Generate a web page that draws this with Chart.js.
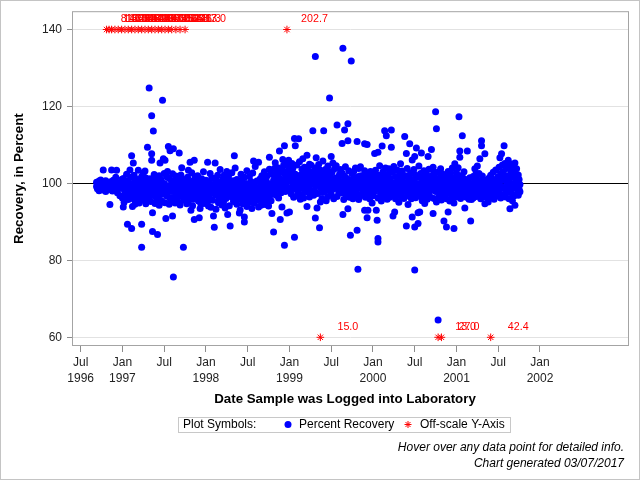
<!DOCTYPE html>
<html>
<head>
<meta charset="utf-8">
<script src="https://cdn.jsdelivr.net/npm/chart.js@4.4.1/dist/chart.umd.min.js"></script>
<style>
  html, body { margin: 0; padding: 0; background: #fff; }
  canvas { display: block; }
</style>
</head>
<body>
<canvas id="recovery-chart" width="640" height="480"></canvas>
<script>
// Percent recovery samples, [decimal year logged, recovery %]
const rec1996 = [
  [1996.69,99.2],[1996.69,100.3],[1996.70,98.6],[1996.71,99.8],[1996.72,100.6],[1996.72,98.1],[1996.73,99.4],[1996.74,100.9],
  [1996.75,98.8],[1996.76,99.9],[1996.77,103.5],[1996.77,98.3],[1996.78,100.2],[1996.79,99.1],[1996.80,97.9],[1996.80,100.7],
  [1996.81,99.5],[1996.82,98.6],[1996.83,100.0],[1996.84,99.0],[1996.85,94.5],[1996.85,98.4],[1996.86,100.4],[1996.87,103.5],
  [1996.87,99.3],[1996.88,98.0],[1996.89,100.8],[1996.90,99.6],[1996.91,98.9],[1996.92,101.6],[1996.93,103.4],[1996.93,99.2],
  [1996.94,97.6],[1996.95,100.1],[1996.96,98.7],[1996.97,96.8],[1996.98,99.7],[1996.99,101.0]
];
const rec1997 = [
  [1997.00,99.4],[1997.00,96.2],[1997.01,93.9],[1997.01,101.3],[1997.02,98.5],[1997.02,95.1],[1997.03,97.8],[1997.03,100.2],
  [1997.04,97.1],[1997.04,99.0],[1997.05,102.4],[1997.05,96.5],[1997.06,89.4],[1997.06,98.2],[1997.07,100.7],[1997.07,95.8],
  [1997.08,97.5],[1997.08,99.6],[1997.09,103.5],[1997.09,96.9],[1997.10,98.8],[1997.10,101.6],[1997.11,88.3],[1997.11,107.2],
  [1997.11,97.3],[1997.12,94.0],[1997.12,99.9],[1997.13,105.3],[1997.13,96.0],[1997.14,98.3],[1997.14,102.1],[1997.15,94.6],
  [1997.15,100.5],[1997.16,97.9],[1997.16,95.5],[1997.17,99.2],[1997.17,97.0],[1997.18,96.4],[1997.18,101.0],[1997.19,103.4],
  [1997.19,98.6],[1997.20,94.9],[1997.20,100.9],[1997.21,97.7],[1997.21,99.5],[1997.22,96.3],[1997.22,98.1],[1997.23,89.4],
  [1997.23,83.4],[1997.23,101.8],[1997.24,95.6],[1997.24,99.8],[1997.25,97.4],[1997.25,102.7],[1997.26,100.3],[1997.26,96.1],
  [1997.27,103.2],[1997.27,98.9],[1997.28,94.7],[1997.28,101.4],[1997.29,97.2],[1997.29,99.1],[1997.30,109.4],[1997.30,95.9],
  [1997.31,100.6],[1997.31,98.0],[1997.32,124.8],[1997.32,96.6],[1997.33,99.3],[1997.33,101.2],[1997.34,97.5],[1997.34,95.3],
  [1997.35,117.6],[1997.35,107.7],[1997.35,106.0],[1997.36,92.4],[1997.36,87.5],[1997.36,98.4],[1997.37,113.6],[1997.37,100.1],
  [1997.38,96.8],[1997.38,102.3],[1997.39,94.8],[1997.39,97.7],[1997.40,99.7],[1997.40,101.5],[1997.41,98.2],[1997.41,95.7],
  [1997.42,86.7],[1997.42,100.4],[1997.43,96.5],[1997.43,98.7],[1997.44,102.0],[1997.44,94.3],[1997.45,105.3],[1997.45,99.0],
  [1997.46,97.1],[1997.46,101.1],[1997.47,95.4],[1997.47,98.5],[1997.48,121.6],[1997.48,99.6],[1997.49,106.4],[1997.49,97.3],
  [1997.50,102.6],[1997.50,100.0],[1997.51,106.0],[1997.51,95.0],[1997.52,90.9],[1997.52,98.3],[1997.53,96.7],[1997.53,101.7],
  [1997.54,103.1],[1997.54,97.6],[1997.55,109.6],[1997.55,99.4],[1997.56,94.6],[1997.56,101.3],[1997.57,108.5],[1997.57,96.2],
  [1997.58,98.8],[1997.58,95.8],[1997.59,100.5],[1997.59,97.9],[1997.60,91.5],[1997.60,102.5],[1997.61,75.7],[1997.61,109.0],
  [1997.61,99.2],[1997.62,96.4],[1997.62,100.8],[1997.63,98.0],[1997.63,94.9],[1997.64,101.9],[1997.64,97.4],[1997.65,99.5],
  [1997.65,96.0],[1997.66,100.2],[1997.66,98.6],[1997.67,95.2],[1997.67,97.0],[1997.68,107.9],[1997.68,101.4],[1997.69,99.8],
  [1997.69,94.4],[1997.70,102.2],[1997.70,97.8],[1997.71,104.1],[1997.71,96.6],[1997.72,100.7],[1997.72,98.9],[1997.73,83.4],
  [1997.73,101.0],[1997.74,95.6],[1997.74,97.1],[1997.75,99.3],[1997.75,96.1],[1997.76,98.4],[1997.76,100.9],[1997.77,94.7],
  [1997.77,99.0],[1997.78,97.5],[1997.78,101.6],[1997.79,103.4],[1997.79,95.3],[1997.80,98.1],[1997.80,100.2],[1997.81,105.5],
  [1997.81,96.8],[1997.82,93.0],[1997.82,99.6],[1997.83,102.8],[1997.83,97.3],[1997.84,94.2],[1997.84,100.6],[1997.85,98.2],
  [1997.85,95.9],[1997.86,106.0],[1997.86,90.6],[1997.86,99.4],[1997.87,101.8],[1997.87,97.0],[1997.88,98.7],[1997.88,96.3],
  [1997.89,100.4],[1997.89,99.1],[1997.90,97.6],[1997.90,102.0],[1997.91,98.5],[1997.91,95.4],[1997.92,91.1],[1997.92,100.9],
  [1997.93,93.5],[1997.93,96.9],[1997.94,94.6],[1997.94,99.8],[1997.95,97.8],[1997.95,101.2],[1997.96,99.0],[1997.96,95.7],
  [1997.97,103.0],[1997.97,98.3],[1997.98,96.4],[1997.98,100.1],[1997.99,98.9],[1997.99,94.8]
];
const rec1998 = [
  [1998.00,97.6],[1998.00,100.8],[1998.01,95.2],[1998.01,99.1],[1998.02,105.5],[1998.02,96.7],[1998.03,98.3],[1998.03,94.1],
  [1998.04,100.2],[1998.04,97.4],[1998.05,96.0],[1998.05,102.6],[1998.06,99.5],[1998.06,93.8],[1998.07,101.5],[1998.07,97.9],
  [1998.08,98.8],[1998.08,95.6],[1998.09,91.5],[1998.09,101.3],[1998.10,88.6],[1998.10,99.8],[1998.11,105.3],[1998.11,97.2],
  [1998.12,98.4],[1998.12,93.3],[1998.13,100.6],[1998.13,96.9],[1998.14,97.0],[1998.14,102.1],[1998.15,99.3],[1998.15,95.0],
  [1998.16,95.8],[1998.16,98.0],[1998.17,103.6],[1998.17,96.2],[1998.18,97.7],[1998.18,100.1],[1998.19,94.4],[1998.19,99.0],
  [1998.20,101.1],[1998.20,96.4],[1998.21,98.7],[1998.21,95.0],[1998.22,97.3],[1998.22,102.2],[1998.23,99.6],[1998.23,93.6],
  [1998.24,96.1],[1998.24,100.5],[1998.25,98.2],[1998.25,103.1],[1998.26,91.9],[1998.26,97.5],[1998.27,101.7],[1998.27,99.2],
  [1998.28,94.2],[1998.28,98.6],[1998.29,88.9],[1998.29,96.6],[1998.30,100.4],[1998.30,97.8],[1998.31,99.9],[1998.31,102.8],
  [1998.32,96.3],[1998.32,98.9],[1998.33,95.3],[1998.33,100.7],[1998.34,107.2],[1998.34,97.1],[1998.35,104.0],[1998.35,98.1],
  [1998.36,96.8],[1998.36,99.5],[1998.37,94.6],[1998.37,101.0],[1998.38,98.5],[1998.38,95.9],[1998.39,97.4],[1998.39,100.3],
  [1998.40,92.3],[1998.40,99.1],[1998.41,93.1],[1998.41,97.9],[1998.42,102.4],[1998.42,96.0],[1998.43,98.0],[1998.43,100.9],
  [1998.44,97.2],[1998.44,94.7],[1998.45,99.4],[1998.45,95.4],[1998.46,91.3],[1998.46,90.0],[1998.46,101.6],[1998.47,96.5],
  [1998.47,98.7],[1998.48,97.6],[1998.48,100.0],[1998.49,103.3],[1998.49,94.0],[1998.50,96.9],[1998.50,98.2],[1998.51,99.7],
  [1998.51,95.2],[1998.52,97.3],[1998.52,101.8],[1998.53,95.1],[1998.53,98.6],[1998.54,100.5],[1998.54,96.3],[1998.55,98.1],
  [1998.55,93.5],[1998.56,102.7],[1998.56,97.7],[1998.57,105.8],[1998.57,99.3],[1998.58,99.8],[1998.58,94.9],[1998.59,104.4],
  [1998.59,97.1],[1998.60,98.4],[1998.60,96.6],[1998.61,95.7],[1998.61,100.6],[1998.62,98.9],[1998.62,96.1],[1998.63,105.5],
  [1998.63,93.9],[1998.64,97.5],[1998.64,99.0],[1998.65,101.2],[1998.65,96.8],[1998.66,100.0],[1998.66,94.3],[1998.67,98.3],
  [1998.67,102.0],[1998.68,95.2],[1998.68,99.6],[1998.69,97.9],[1998.69,101.4],[1998.70,103.0],[1998.70,96.5],[1998.71,99.2],
  [1998.71,94.5],[1998.72,96.0],[1998.72,100.8],[1998.73,101.9],[1998.73,97.6],[1998.74,98.6],[1998.74,95.8],[1998.75,94.1],
  [1998.75,99.9],[1998.76,106.8],[1998.76,103.7],[1998.77,97.0],[1998.77,98.0],[1998.78,102.5],[1998.78,95.5],[1998.79,92.2],
  [1998.79,99.4],[1998.80,99.4],[1998.80,102.3],[1998.81,87.4],[1998.81,100.8],[1998.82,103.9],[1998.82,98.0],[1998.83,101.2],
  [1998.83,105.4],[1998.84,96.9],[1998.84,99.7],[1998.85,102.6],[1998.85,100.3],[1998.86,98.5],[1998.86,104.1],[1998.87,101.7],
  [1998.87,96.2],[1998.88,108.4],[1998.88,99.1],[1998.89,90.6],[1998.89,102.9],[1998.90,100.5],[1998.90,97.6],[1998.91,93.9],
  [1998.91,103.6],[1998.92,106.2],[1998.92,101.0],[1998.93,98.8],[1998.93,104.7],[1998.94,109.8],[1998.94,83.9],[1998.94,100.2],
  [1998.95,102.4],[1998.95,97.9],[1998.96,105.0],[1998.96,99.5],[1998.97,92.3],[1998.97,101.9],[1998.98,103.3],[1998.98,98.4],
  [1998.99,100.7],[1998.99,106.0]
];
const rec1999 = [
  [1999.00,101.5],[1999.00,92.6],[1999.00,104.3],[1999.01,98.0],[1999.01,100.6],[1999.02,102.8],[1999.02,97.3],[1999.03,99.1],
  [1999.03,105.2],[1999.04,103.9],[1999.04,98.9],[1999.05,101.2],[1999.05,96.4],[1999.06,111.7],[1999.06,86.0],[1999.06,99.7],
  [1999.07,109.8],[1999.07,102.4],[1999.08,98.4],[1999.08,100.9],[1999.09,104.8],[1999.09,96.8],[1999.10,101.7],[1999.10,99.2],
  [1999.11,111.6],[1999.11,97.6],[1999.12,100.3],[1999.12,105.6],[1999.13,95.9],[1999.13,102.1],[1999.14,98.8],[1999.14,101.0],
  [1999.15,103.7],[1999.15,97.0],[1999.16,100.0],[1999.16,106.4],[1999.17,96.2],[1999.17,102.6],[1999.18,99.5],[1999.18,104.2],
  [1999.19,101.4],[1999.19,97.9],[1999.20,102.9],[1999.20,98.6],[1999.21,94.0],[1999.21,107.3],[1999.21,100.7],[1999.22,97.8],
  [1999.22,103.5],[1999.23,101.9],[1999.23,99.0],[1999.24,105.0],[1999.24,96.5],[1999.25,100.2],[1999.25,102.3],[1999.26,98.1],
  [1999.26,104.7],[1999.27,101.1],[1999.27,99.8],[1999.28,113.7],[1999.28,103.0],[1999.29,96.9],[1999.29,100.4],[1999.30,102.0],
  [1999.30,98.3],[1999.31,133.0],[1999.31,91.0],[1999.31,104.0],[1999.32,99.6],[1999.32,106.7],[1999.33,93.6],[1999.33,101.5],
  [1999.34,102.8],[1999.34,97.4],[1999.35,100.1],[1999.35,104.9],[1999.36,88.5],[1999.36,99.3],[1999.37,95.2],[1999.37,103.4],
  [1999.38,101.8],[1999.38,98.7],[1999.39,100.6],[1999.39,96.1],[1999.40,105.8],[1999.40,102.5],[1999.41,113.7],[1999.41,97.7],
  [1999.42,100.0],[1999.42,101.3],[1999.43,99.1],[1999.43,103.6],[1999.44,98.9],[1999.44,95.5],[1999.45,102.2],[1999.45,100.8],
  [1999.46,96.6],[1999.46,104.5],[1999.47,100.5],[1999.47,98.2],[1999.48,122.2],[1999.48,103.1],[1999.49,101.6],[1999.49,99.4],
  [1999.50,107.0],[1999.50,97.1],[1999.51,101.0],[1999.51,102.9],[1999.52,98.5],[1999.52,105.3],[1999.53,100.2],[1999.53,96.0],
  [1999.54,103.8],[1999.54,99.7],[1999.55,101.4],[1999.55,100.0],[1999.56,104.6],[1999.56,98.8],[1999.57,115.2],[1999.57,96.6],
  [1999.58,100.9],[1999.58,99.0],[1999.59,97.8],[1999.59,101.7],[1999.60,102.4],[1999.60,98.4],[1999.61,103.6],[1999.61,100.3],
  [1999.62,97.5],[1999.62,99.6],[1999.63,110.4],[1999.63,102.7],[1999.64,135.1],[1999.64,91.9],[1999.64,98.1],[1999.65,100.7],
  [1999.65,95.8],[1999.66,113.9],[1999.66,101.9],[1999.67,104.3],[1999.67,98.6],[1999.68,96.9],[1999.68,99.8],[1999.69,101.3],
  [1999.69,98.0],[1999.70,115.5],[1999.70,111.1],[1999.70,93.4],[1999.71,100.9],[1999.71,103.3],[1999.72,96.4],[1999.72,99.2],
  [1999.73,86.5],[1999.73,97.4],[1999.74,131.8],[1999.74,100.1],[1999.75,102.5],[1999.75,98.9],[1999.76,96.0],[1999.76,101.0],
  [1999.77,103.1],[1999.77,99.3],[1999.78,98.4],[1999.78,100.5],[1999.79,96.7],[1999.79,104.0],[1999.80,97.9],[1999.80,100.2],
  [1999.81,110.9],[1999.81,87.8],[1999.81,101.6],[1999.82,77.7],[1999.82,98.8],[1999.83,103.9],[1999.83,95.8],[1999.84,99.1],
  [1999.84,101.9],[1999.85,97.0],[1999.85,104.3],[1999.86,100.4],[1999.86,98.6],[1999.87,102.0],[1999.87,96.9],[1999.88,99.8],
  [1999.88,101.3],[1999.89,98.0],[1999.89,100.9],[1999.90,110.3],[1999.90,93.0],[1999.90,103.3],[1999.91,98.3],[1999.91,96.4],
  [1999.92,101.6],[1999.92,99.2],[1999.93,110.1],[1999.93,91.1],[1999.93,97.4],[1999.94,93.0],[1999.94,100.1],[1999.95,102.5],
  [1999.95,98.9],[1999.96,99.5],[1999.96,96.0],[1999.97,101.0],[1999.97,103.1],[1999.98,97.2],[1999.98,100.6],[1999.99,94.9],
  [1999.99,98.4]
];
const rec2000 = [
  [2000.00,99.2],[2000.00,102.6],[2000.00,96.8],[2000.01,101.5],[2000.01,97.7],[2000.02,107.8],[2000.02,100.0],[2000.03,98.4],
  [2000.03,103.4],[2000.04,93.0],[2000.04,101.2],[2000.05,90.4],[2000.05,99.0],[2000.06,108.1],[2000.06,85.7],[2000.06,84.8],
  [2000.06,96.2],[2000.07,102.1],[2000.07,98.5],[2000.08,100.6],[2000.08,104.6],[2000.09,97.4],[2000.09,99.6],[2000.10,101.9],
  [2000.10,95.4],[2000.11,109.7],[2000.11,98.9],[2000.12,103.0],[2000.12,100.4],[2000.13,96.6],[2000.13,99.1],[2000.14,113.7],
  [2000.14,101.7],[2000.15,98.0],[2000.15,104.0],[2000.16,112.4],[2000.16,97.0],[2000.17,100.9],[2000.17,95.9],[2000.18,99.4],
  [2000.18,102.4],[2000.19,103.8],[2000.19,98.2],[2000.20,96.4],[2000.20,100.7],[2000.21,101.3],[2000.21,97.8],[2000.22,113.9],
  [2000.22,109.4],[2000.22,99.5],[2000.23,98.7],[2000.23,102.9],[2000.24,91.5],[2000.24,100.1],[2000.25,97.2],[2000.25,104.4],
  [2000.26,92.6],[2000.26,99.7],[2000.27,101.8],[2000.27,96.0],[2000.28,100.3],[2000.28,98.3],[2000.29,103.5],[2000.29,97.1],
  [2000.30,99.0],[2000.30,101.0],[2000.31,95.1],[2000.31,98.8],[2000.32,102.3],[2000.32,100.5],[2000.33,97.6],[2000.33,105.1],
  [2000.34,100.8],[2000.34,96.5],[2000.35,98.5],[2000.35,103.2],[2000.36,101.6],[2000.36,99.3],[2000.37,96.1],[2000.37,97.9],
  [2000.38,112.2],[2000.38,100.2],[2000.39,99.8],[2000.39,102.0],[2000.40,107.8],[2000.40,88.9],[2000.40,98.1],[2000.41,103.9],
  [2000.41,96.7],[2000.42,100.4],[2000.42,94.5],[2000.43,98.9],[2000.43,101.4],[2000.44,110.3],[2000.44,97.3],[2000.45,102.7],
  [2000.45,99.6],[2000.46,96.0],[2000.46,100.9],[2000.47,106.1],[2000.47,91.3],[2000.47,98.6],[2000.48,101.0],[2000.48,97.5],
  [2000.49,99.1],[2000.49,103.6],[2000.50,107.0],[2000.50,88.7],[2000.50,77.5],[2000.50,100.3],[2000.51,96.3],[2000.51,102.1],
  [2000.52,109.2],[2000.52,98.2],[2000.53,99.8],[2000.53,101.7],[2000.54,89.6],[2000.54,92.4],[2000.54,97.0],[2000.55,100.0],
  [2000.55,104.5],[2000.56,92.6],[2000.56,98.4],[2000.57,96.6],[2000.57,102.6],[2000.58,107.9],[2000.58,99.4],[2000.59,101.2],
  [2000.59,95.5],[2000.60,98.0],[2000.60,100.6],[2000.61,103.3],[2000.61,97.7],[2000.62,99.9],[2000.62,94.8],[2000.63,96.9],
  [2000.63,101.5],[2000.64,102.4],[2000.64,99.0],[2000.65,98.1],[2000.65,95.9],[2000.66,107.0],[2000.66,100.7],[2000.67,97.4],
  [2000.67,103.7],[2000.68,99.6],[2000.68,101.1],[2000.69,96.4],[2000.69,98.7],[2000.70,108.8],[2000.70,101.9],[2000.71,100.3],
  [2000.71,98.3],[2000.72,92.2],[2000.72,104.2],[2000.73,103.0],[2000.73,96.1],[2000.74,99.5],[2000.74,101.6],[2000.75,118.6],
  [2000.75,97.9],[2000.76,114.2],[2000.76,95.2],[2000.77,100.8],[2000.77,99.0],[2000.78,64.5],[2000.78,102.9],[2000.79,96.5],
  [2000.79,98.6],[2000.80,101.4],[2000.80,97.2],[2000.81,100.0],[2000.81,103.8],[2000.82,98.2],[2000.82,95.7],[2000.83,102.5],
  [2000.83,99.7],[2000.84,97.0],[2000.84,100.6],[2000.85,90.2],[2000.85,101.8],[2000.86,96.8],[2000.86,98.4],[2000.87,102.1],
  [2000.87,99.3],[2000.88,88.7],[2000.88,96.0],[2000.89,100.4],[2000.89,97.6],[2000.90,92.6],[2000.90,103.1],[2000.91,101.2],
  [2000.91,98.8],[2000.92,95.4],[2000.92,99.9],[2000.93,102.7],[2000.93,97.3],[2000.94,99.1],[2000.94,100.7],[2000.95,96.2],
  [2000.95,104.0],[2000.96,98.5],[2000.96,101.3],[2000.97,88.3],[2000.97,94.9],[2000.97,100.0],[2000.98,105.1],[2000.98,97.8],
  [2000.99,101.6],[2000.99,99.2]
];
const rec2001 = [
  [2001.00,99.4],[2001.00,102.8],[2001.00,96.5],[2001.01,100.9],[2001.01,98.2],[2001.02,104.1],[2001.02,97.0],[2001.02,101.3],
  [2001.03,117.3],[2001.03,99.6],[2001.04,108.4],[2001.04,106.8],[2001.04,98.7],[2001.05,102.0],[2001.05,100.3],[2001.05,96.1],
  [2001.06,97.5],[2001.06,99.0],[2001.07,112.4],[2001.07,101.7],[2001.08,98.4],[2001.08,96.8],[2001.09,100.6],[2001.09,103.0],
  [2001.10,93.6],[2001.10,99.2],[2001.11,97.9],[2001.11,101.0],[2001.12,96.4],[2001.12,98.8],[2001.13,108.4],[2001.13,100.2],
  [2001.14,99.6],[2001.14,97.1],[2001.15,98.1],[2001.15,95.9],[2001.16,101.5],[2001.16,96.9],[2001.17,90.2],[2001.17,99.3],
  [2001.18,97.6],[2001.18,95.8],[2001.19,100.0],[2001.19,98.5],[2001.20,96.2],[2001.20,101.8],[2001.21,99.1],[2001.21,97.4],
  [2001.22,103.8],[2001.22,100.6],[2001.23,98.0],[2001.23,102.3],[2001.24,101.1],[2001.24,96.6],[2001.25,99.8],[2001.25,104.5],
  [2001.26,97.3],[2001.26,100.4],[2001.27,102.6],[2001.27,98.9],[2001.28,106.4],[2001.28,99.5],[2001.29,100.7],[2001.29,96.0],
  [2001.30,111.1],[2001.30,109.8],[2001.30,97.8],[2001.31,101.9],[2001.31,98.2],[2001.32,99.3],[2001.32,96.5],[2001.33,97.0],
  [2001.33,100.9],[2001.34,107.7],[2001.34,94.7],[2001.34,98.6],[2001.35,96.8],[2001.35,99.8],[2001.36,100.2],[2001.36,97.5],
  [2001.37,98.0],[2001.37,96.3],[2001.38,95.2],[2001.38,99.0],[2001.39,97.9],[2001.39,101.4],[2001.40,100.5],[2001.40,96.9],
  [2001.41,98.7],[2001.41,102.1],[2001.42,99.6],[2001.42,97.2],[2001.43,96.4],[2001.43,100.1],[2001.44,102.9],[2001.44,98.3],
  [2001.45,97.7],[2001.45,95.9],[2001.46,99.2],[2001.46,101.0],[2001.47,103.5],[2001.47,98.0],[2001.48,100.3],[2001.48,96.7],
  [2001.49,98.8],[2001.49,99.7],[2001.50,101.7],[2001.50,97.4],[2001.51,104.2],[2001.51,100.0],[2001.52,106.7],[2001.52,98.4],
  [2001.53,102.6],[2001.53,96.2],[2001.54,107.7],[2001.54,100.8],[2001.55,104.8],[2001.55,99.1],[2001.56,103.1],[2001.56,97.0],
  [2001.57,109.8],[2001.57,101.5],[2001.58,105.2],[2001.58,98.6],[2001.59,102.0],[2001.59,96.5],[2001.60,100.4],[2001.60,103.9],
  [2001.61,97.8],[2001.61,104.6],[2001.62,106.0],[2001.62,99.3],[2001.63,96.0],[2001.63,101.2],[2001.64,93.4],[2001.64,98.1],
  [2001.65,102.7],[2001.65,104.3],[2001.66,100.0],[2001.66,97.5],[2001.67,105.0],[2001.67,95.5],[2001.68,99.2],[2001.68,103.0],
  [2001.69,101.6],[2001.69,96.8],[2001.70,105.3],[2001.70,94.3],[2001.70,98.9],[2001.71,102.4],[2001.71,100.6],[2001.72,103.8],
  [2001.72,97.2],[2001.73,100.1],[2001.73,99.6],[2001.74,96.9],[2001.74,102.2],[2001.75,98.5],[2001.75,101.0],[2001.76,99.7],
  [2001.76,97.8]
];

// Off-scale results (plotted at the axis limit, actual value printed beside the star)
const offDates = [
  1996.81, 1996.84, 1996.87, 1996.91, 1996.95, 1996.99, 1997.03, 1997.07, 1997.11, 1997.15, 1997.19, 1997.23,
  1997.27, 1997.31, 1997.35, 1997.39, 1997.43, 1997.47, 1997.51, 1997.55, 1997.59, 1997.64, 1997.69, 1997.75,
  1998.97, 1999.37, 2000.78, 2000.82, 2001.41
];
const offValues = [
  812.0, 146.3, 155.8, 171.2, 149.6, 163.4, 204.1, 148.8, 157.0, 182.5, 144.9, 166.7,
  151.3, 198.2, 147.5, 173.9, 160.2, 145.6, 189.4, 152.8, 168.1, 143.7, 176.3, 213.0,
  202.7, 15.0, 13.0, 27.0, 42.4
];

// Axes
const yTicks = [60, 80, 100, 120, 140];
const xTickYears = [1996.5, 1997, 1997.5, 1998, 1998.5, 1999, 1999.5, 2000, 2000.5, 2001, 2001.5, 2002];
const xTickLabels = [
  ['Jul', '1996'], ['Jan', '1997'], ['Jul', ''], ['Jan', '1998'], ['Jul', ''], ['Jan', '1999'],
  ['Jul', ''], ['Jan', '2000'], ['Jul', ''], ['Jan', '2001'], ['Jul', ''], ['Jan', '2002']
];

const FONT = '"Liberation Sans", Arial, sans-serif';
Chart.defaults.font.family = FONT;

const recovery = [...rec1996, ...rec1997, ...rec1998, ...rec1999, ...rec2000, ...rec2001]
  .map(([x, y]) => ({ x, y }));
const offScale = offDates.map((x, i) => ({ x, y: offValues[i] > 140 ? 140 : 60 }));

function drawStar(ctx, x, y, r) {
  ctx.beginPath();
  for (let a = 0; a < 4; a++) {
    const ang = a * Math.PI / 4;
    ctx.moveTo(x - r * Math.cos(ang), y - r * Math.sin(ang));
    ctx.lineTo(x + r * Math.cos(ang), y + r * Math.sin(ang));
  }
  ctx.stroke();
}

// frame, titles, off-scale labels, legend box and footnotes
const decorPlugin = {
  id: 'decor',
  afterDatasetsDraw(chart) {
    const ctx = chart.ctx;
    const meta = chart.getDatasetMeta(1);
    ctx.save();
    ctx.fillStyle = '#ff0000';
    ctx.font = '10.7px ' + FONT;
    ctx.textAlign = 'center';
    ctx.textBaseline = 'middle';
    meta.data.forEach((pt, i) => {
      ctx.fillText(offValues[i].toFixed(1), pt.x + 27.5, pt.y - 10);
    });
    ctx.restore();
  },
  afterDraw(chart) {
    const { ctx, chartArea: a } = chart;
    ctx.save();
    ctx.lineWidth = 1;
    ctx.strokeStyle = '#a4a4a4';
    ctx.strokeRect(a.left - 0.5, a.top - 0.5, a.right - a.left + 1, a.bottom - a.top + 1);
    ctx.strokeStyle = '#c4c4c4';
    ctx.strokeRect(0.5, 0.5, 639, 479);

    // axis titles
    ctx.fillStyle = '#000';
    ctx.font = 'bold 13.3px ' + FONT;
    ctx.textAlign = 'center';
    ctx.textBaseline = 'middle';
    ctx.fillText('Date Sample was Logged into Laboratory', 345, 399);
    ctx.save();
    ctx.translate(19, (a.top + a.bottom) / 2);
    ctx.rotate(-Math.PI / 2);
    ctx.fillText('Recovery, in Percent', 0, 0);
    ctx.restore();

    // legend
    ctx.strokeStyle = '#c8c8c8';
    ctx.strokeRect(178.5, 417.5, 332, 15);
    ctx.font = '12px ' + FONT;
    ctx.textAlign = 'left';
    ctx.textBaseline = 'alphabetic';
    ctx.fillStyle = '#000';
    ctx.fillText('Plot Symbols:', 183, 428);
    ctx.fillStyle = '#0000ff';
    ctx.beginPath();
    ctx.arc(288, 424.5, 3.5, 0, Math.PI * 2);
    ctx.fill();
    ctx.fillStyle = '#000';
    ctx.fillText('Percent Recovery', 299, 428);
    ctx.strokeStyle = '#ff0000';
    drawStar(ctx, 408, 424.5, 3.5);
    ctx.fillText('Off-scale Y-Axis', 420, 428);

    // footnotes
    ctx.font = 'italic 12px ' + FONT;
    ctx.textAlign = 'right';
    ctx.fillText('Hover over any data point for detailed info.', 624, 451);
    ctx.fillText('Chart generated 03/07/2017', 624, 467);
    ctx.restore();
  }
};

new Chart(document.getElementById('recovery-chart'), {
  type: 'scatter',
  data: {
    datasets: [
      {
        label: 'Percent Recovery',
        data: recovery,
        pointStyle: 'circle',
        pointRadius: 3.5,
        pointBorderWidth: 0,
        backgroundColor: '#0000ff',
        borderColor: '#0000ff'
      },
      {
        label: 'Off-scale Y-Axis',
        data: offScale,
        pointStyle: 'star',
        pointRadius: 3.8,
        pointBorderWidth: 1,
        borderColor: '#ff0000',
        backgroundColor: '#ff0000'
      }
    ]
  },
  options: {
    responsive: false,
    animation: false,
    devicePixelRatio: 1,
    layout: { padding: { left: 0, right: 12, top: 11, bottom: 0 } },
    plugins: { legend: { display: false } },
    scales: {
      x: {
        type: 'linear',
        min: 1996.408,
        max: 2003.054,
        afterFit: (scale) => { scale.height = 135; },
        afterBuildTicks: (scale) => { scale.ticks = xTickYears.map(v => ({ value: v })); },
        border: { display: false },
        grid: { drawOnChartArea: false, drawTicks: true, tickLength: 7, tickColor: '#8c8c8c' },
        ticks: {
          autoSkip: false,
          maxRotation: 0,
          padding: 3,
          color: '#222',
          font: { size: 12, lineHeight: 1.3 },
          callback: (v, i) => xTickLabels[i]
        }
      },
      y: {
        min: 58.0,
        max: 144.5,
        afterFit: (scale) => { scale.width = 73; },
        afterBuildTicks: (scale) => { scale.ticks = yTicks.map(v => ({ value: v })); },
        border: { display: false },
        grid: {
          color: (c) => (c.tick && c.tick.value === 100 ? '#000000' : '#e2e2e2'),
          tickColor: '#8c8c8c',
          tickLength: 6
        },
        ticks: { padding: 5, color: '#222', font: { size: 12 } }
      }
    }
  },
  plugins: [decorPlugin]
});
</script>
</body>
</html>
